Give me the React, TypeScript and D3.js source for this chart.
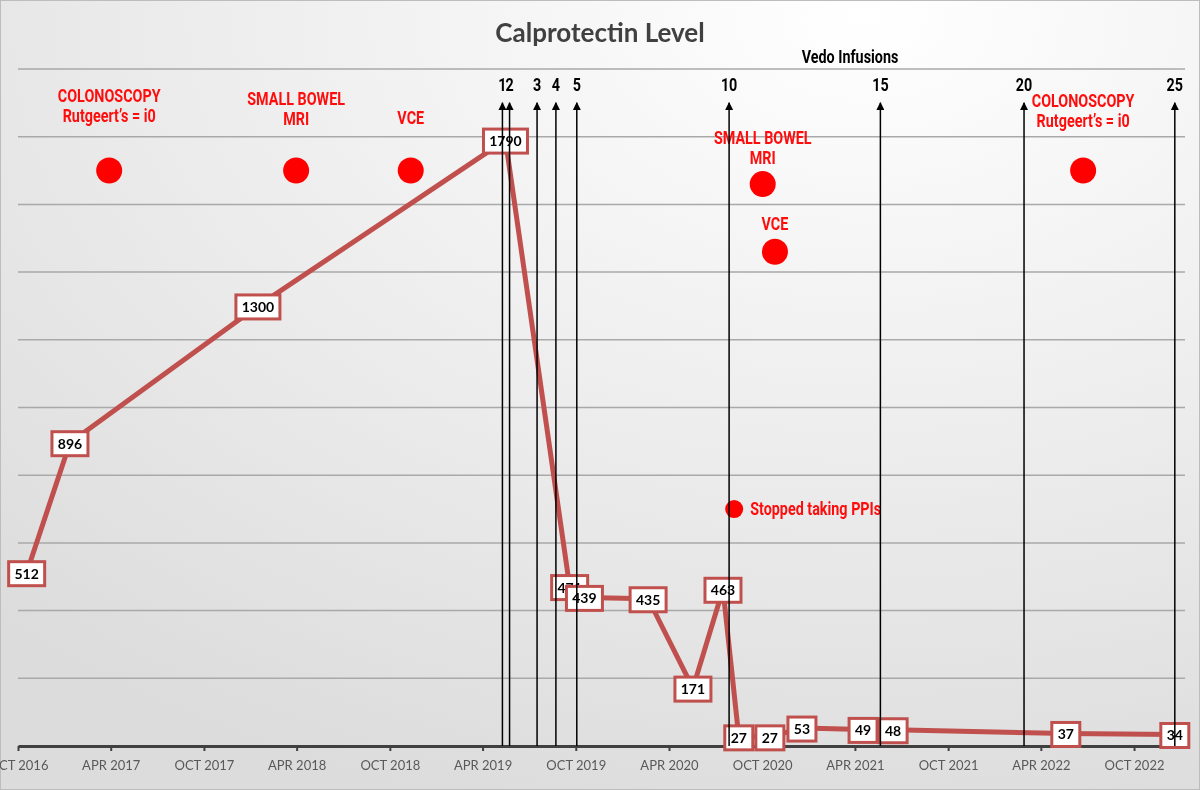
import * as d3 from "d3";
import React, { useEffect, useRef } from "react";

// calprotectin results
const calDates = [
  "2016-10-18", "2017-01-11", "2018-01-15", "2019-05-16", "2019-09-19", "2019-10-18",
  "2020-02-20", "2020-05-18", "2020-07-16", "2020-08-16", "2020-10-16", "2020-12-18",
  "2021-04-17", "2021-06-15", "2022-05-20", "2022-12-20",
];
const calValues = [512, 896, 1300, 1790, 471, 439, 435, 171, 463, 27, 27, 53, 49, 48, 37, 34];

// vedo infusions (only labelled ones drawn)
const infusionNumbers = [1, 2, 3, 4, 5, 10, 15, 20, 25];
const infusionDates = [
  "2019-05-10", "2019-05-24", "2019-07-17", "2019-08-23", "2019-10-03",
  "2020-07-28", "2021-05-21", "2022-02-27", "2022-12-20",
];

// clinical events
const eventLabels = [
  ["COLONOSCOPY", "Rutgeert\u2019s = i0"],
  ["SMALL BOWEL", "MRI"],
  ["VCE"],
  ["SMALL BOWEL", "MRI"],
  ["VCE"],
  ["Stopped taking PPIs"],
  ["COLONOSCOPY", "Rutgeert\u2019s = i0"],
];
const eventDates = [
  "2017-03-29", "2018-03-31", "2018-11-11", "2020-10-02", "2020-10-26", "2020-08-07", "2022-06-23",
];
const eventValues = [1700, 1700, 1700, 1660, 1460, 700, 1700];

const tickLabels = [
  "OCT 2016", "APR 2017", "OCT 2017", "APR 2018", "OCT 2018", "APR 2019", "OCT 2019",
  "APR 2020", "OCT 2020", "APR 2021", "OCT 2021", "APR 2022", "OCT 2022",
];

const W = 1200;
const H = 790;
const parse = d3.timeParse("%Y-%m-%d");
const parseTick = d3.timeParse("%b %Y");

const x = d3
  .scaleTime()
  .domain([new Date(2016, 9, 1), new Date(2023, 0, 9)])
  .range([18, 1185]);
const y = d3.scaleLinear().domain([0, 2000]).range([746, 69]);

const RED = "#c0504d";
const narrowFont = "Roboto, 'Liberation Sans', sans-serif";

// label offsets for event text (first line above the dot)
const eventTextDy = [-75, -72, -53, -46, -28, 0, -70];

// condensed bold text, squeezed horizontally
const Narrow = ({ x, y, anchor = "middle", fill = "#000", size = 17.5, children }: any) => (
  <text
    transform={`translate(${x},${y}) scale(0.82,1)`}
    textAnchor={anchor}
    fontFamily={narrowFont}
    fontWeight="bold"
    fontSize={size}
    fill={fill}
  >
    {children}
  </text>
);

export default function App() {
  const axisRef = useRef<SVGGElement | null>(null);

  useEffect(() => {
    const g = d3.select(axisRef.current);
    g.selectAll("*").remove();
    const tickDates = tickLabels.map((t) => parseTick(t) as Date);
    g.call(
      d3
        .axisBottom(x)
        .tickValues(tickDates)
        .tickFormat((_, i) => tickLabels[i])
        .tickSize(5)
        .tickSizeOuter(0)
        .tickPadding(10)
    );
    g.select(".domain").attr("stroke", "#404040").attr("stroke-width", 3);
    g.selectAll(".tick line").attr("stroke", "#404040").attr("stroke-width", 2);
    g.selectAll(".tick text")
      .attr("fill", "#595959")
      .attr("font-size", 13)
      .attr("font-family", "Lato, 'Open Sans', sans-serif");
  }, []);

  const pts = calDates.map((d, i) => ({ date: parse(d) as Date, value: calValues[i] }));
  const line = d3
    .line<{ date: Date; value: number }>()
    .x((d) => x(d.date))
    .y((d) => y(d.value));

  const gridVals = d3.range(200, 2001, 200);

  return (
    <svg width={W} height={H} style={{ position: "fixed", left: 0, top: 0, display: "block" }}>
      <defs>
        <radialGradient id="bg" cx="0.72" cy="0.02" r="1.05" fx="0.72" fy="0.02">
          <stop offset="0" stopColor="#ffffff" />
          <stop offset="0.55" stopColor="#ececec" />
          <stop offset="1" stopColor="#dcdcdc" />
        </radialGradient>
        <marker id="arrow" viewBox="0 0 10 10" refX="9" refY="5" markerWidth="12" markerHeight="8" orient="auto" markerUnits="userSpaceOnUse">
          <path d="M0,0 L10,5 L0,10 Z" fill="#000" />
        </marker>
      </defs>
      <rect x={0.5} y={0.5} width={W - 1} height={H - 1} fill="url(#bg)" stroke="#bdbdbd" />

      {gridVals.map((v) => (
        <line key={v} x1={18} x2={1185} y1={y(v)} y2={y(v)} stroke="#a9a9a9" strokeWidth={1.5} />
      ))}

      <text x={600} y={42} textAnchor="middle" fontFamily="Lato, 'Open Sans', sans-serif" fontWeight="bold" fontSize={26} fill="#404040">
        Calprotectin Level
      </text>
      <Narrow x={850} y={63}>Vedo Infusions</Narrow>

      <g ref={axisRef} transform={`translate(0,${y(0)})`} />

      {/* events */}
      {eventLabels.map((lines, i) => {
        const cx = x(parse(eventDates[i]) as Date);
        const cy = y(eventValues[i]);
        const side = lines[0].startsWith("Stopped");
        return (
          <g key={i}>
            <circle cx={cx} cy={cy} r={side ? 9 : 13} fill="#ff0000" />
            {lines.map((t, j) => (
              <Narrow
                key={j}
                x={side ? cx + 16 : cx}
                y={side ? cy + 6 : cy + eventTextDy[i] + j * 20 + 6}
                anchor={side ? "start" : "middle"}
                fill="#ff0d0d"
              >
                {t}
              </Narrow>
            ))}
          </g>
        );
      })}

      {/* calprotectin line */}
      <path d={line(pts) ?? ""} fill="none" stroke={RED} strokeWidth={5} strokeLinejoin="round" />
      {pts.map((p, i) => {
        const label = String(p.value);
        const w = label.length * 8 + 12;
        const cx = x(p.date);
        const cy = y(p.value);
        return (
          <g key={i}>
            <circle cx={cx} cy={cy - 6} r={6} fill={RED} />
            <rect x={cx - w / 2} y={cy - 11} width={w} height={24} fill="#fff" stroke={RED} strokeWidth={3} />
            <text x={cx} y={cy + 6} textAnchor="middle" fontFamily="Lato, 'Open Sans', sans-serif" fontWeight="bold" fontSize={14} fill="#000">
              {label}
            </text>
          </g>
        );
      })}

      {/* infusion arrows */}
      {infusionNumbers.map((n, i) => {
        const xi = x(parse(infusionDates[i]) as Date);
        const top = y(1900);
        return (
          <g key={n}>
            <line x1={xi} x2={xi} y1={y(0)} y2={top} stroke="#000" strokeWidth={1.5} markerEnd="url(#arrow)" />
            <Narrow x={xi} y={top - 12}>{n}</Narrow>
          </g>
        );
      })}
    </svg>
  );
}
